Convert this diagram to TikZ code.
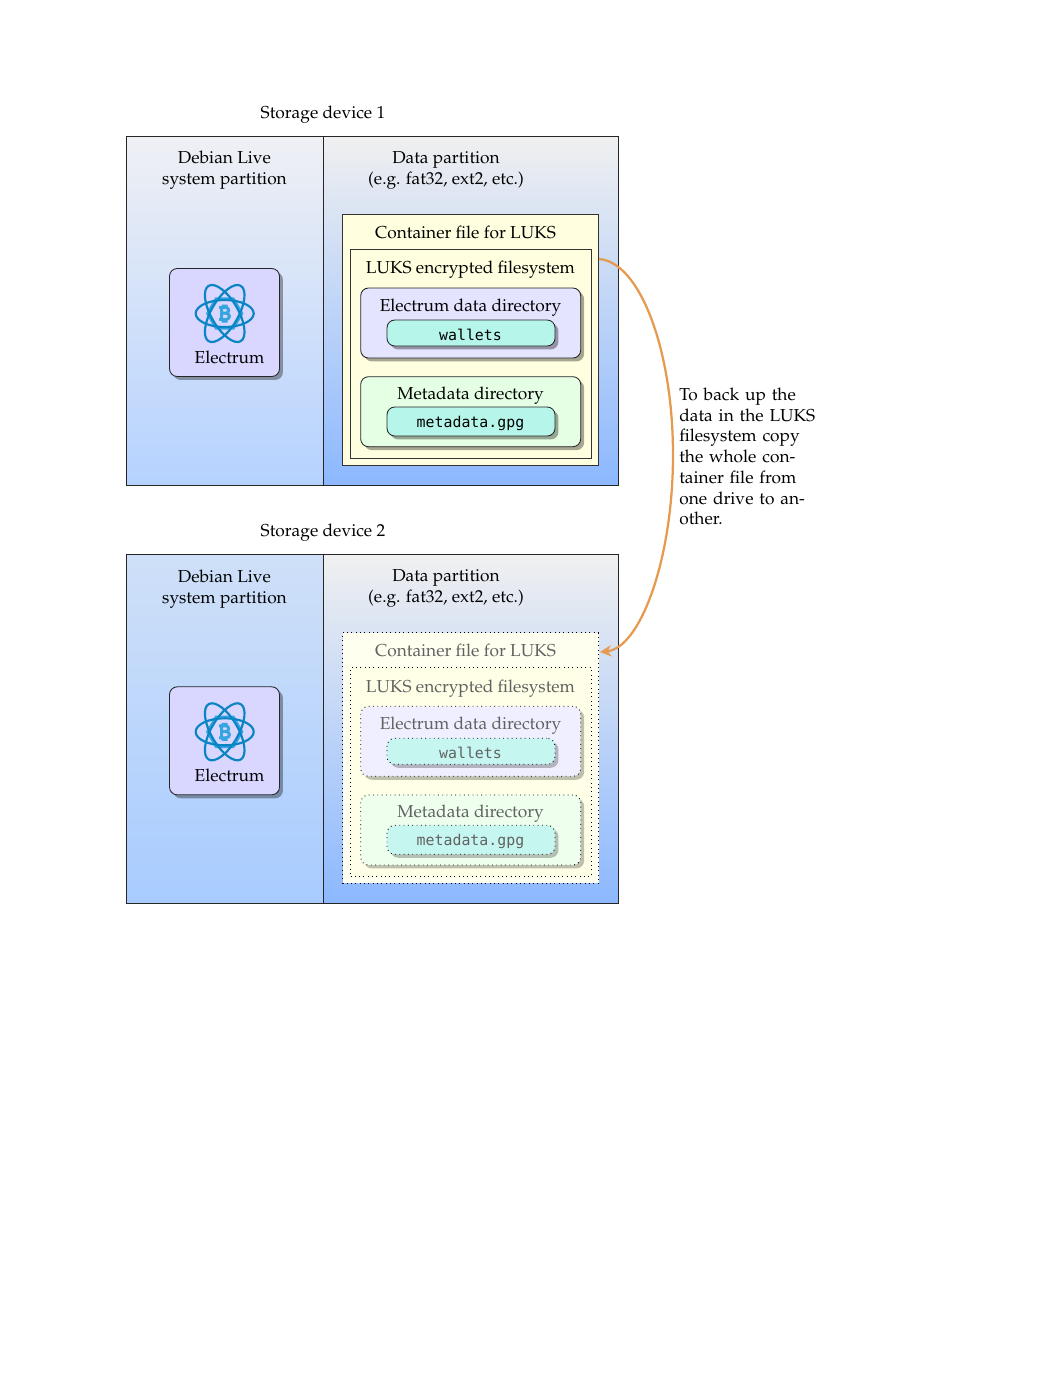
\documentclass[tikz,border=0pt]{standalone}
\usepackage{fontspec}
\usepackage[T1]{fontenc}
\setmonofont[Scale=0.86]{DejaVu Sans Mono}
\renewcommand{\rmdefault}{ppl}
\usetikzlibrary{shadows,arrows.meta}
\definecolor{arrowc}{HTML}{E69A50}
\definecolor{acontc}{HTML}{FFFFE0}
\definecolor{aluksc}{HTML}{FFFFE0}
\definecolor{aedirc}{HTML}{E4E4FF}
\definecolor{amdirc}{HTML}{E4FFE4}
\definecolor{afilec}{HTML}{B5F5EA}
\definecolor{bcontc}{HTML}{FFFFF0}
\definecolor{bluksc}{HTML}{FFFFE8}
\definecolor{bedirc}{HTML}{EFEFFF}
\definecolor{bmdirc}{HTML}{EEFFEE}
\definecolor{bfilec}{HTML}{C6F6F0}
\definecolor{appc}{HTML}{D9D6FF}
\definecolor{iconc}{HTML}{0A85C4}
\definecolor{iconl}{HTML}{35A5E0}
\definecolor{ltopa}{HTML}{EFF0F4}
\definecolor{lbota}{HTML}{B5D2FF}
\definecolor{ltopb}{HTML}{CFE0F8}
\definecolor{lbotb}{HTML}{A8CCFF}
\definecolor{rtop}{HTML}{F0F0F0}
\definecolor{rbot}{HTML}{8CB8FF}
\newcommand{\wsp}{\spaceskip=3.4pt\relax}
\tikzset{
  partbox/.style={draw=black!85,line width=0.45pt,outer sep=0pt},
  sqbox/.style={draw=black!80,line width=0.5pt,inner sep=0pt,outer sep=0pt,rectangle},
  rdbox/.style={draw=black!85,line width=0.5pt,inner sep=0pt,outer sep=0pt,rectangle,rounded corners=4.5pt,
    drop shadow={shadow xshift=0.07cm,shadow yshift=-0.07cm,fill=black,opacity=0.35}},
  dimsq/.style={draw=black,dotted,line width=0.5pt,inner sep=0pt,outer sep=0pt,rectangle},
  dimrd/.style={draw=black,dotted,line width=0.5pt,inner sep=0pt,outer sep=0pt,rectangle,rounded corners=4.5pt,
    drop shadow={shadow xshift=0.07cm,shadow yshift=-0.07cm,fill=black,opacity=0.25}},
  lbl/.style={inner sep=0pt,align=center,font=\rmfamily\fontsize{10}{12}\selectfont},
  orb/.style={draw=iconc,line width=1.25pt},
}
\newcommand{\bx}[6]{%
  \pgfmathsetlengthmacro{\bw}{(#4-#2)*0.02031cm}%
  \pgfmathsetlengthmacro{\bh}{(#5-#3)*0.02031cm}%
  \node[#6,minimum width=\bw,minimum height=\bh,anchor=north west] (#1) at (#2,#3) {};}
\newcommand{\device}[8]{%
  \begin{scope}[yshift=#2*-0.02031cm]
  \node[lbl] (#1title) at (323,114.5) {Storage device #8};
  \shade[top color=#3,bottom color=#4] (126,136) rectangle (323,485);
  \shade[top color=rtop,bottom color=rbot] (323,136) rectangle (618,485);
  \bx{#1left}{126.3}{136.3}{323.3}{485.3}{partbox}
  \bx{#1right}{323.3}{136.3}{618.3}{485.3}{partbox}
  \node[lbl] (#1ltext) at (224.5,170.5) {Debian Live\\system partition};
  \node[lbl] (#1rtext) at (446,170.5) {Data partition\\(e.g. fat32, ext2, etc.)};
  \bx{#1app}{169.5}{268.5}{279.5}{376.5}{rdbox,fill=appc}
  \begin{scope}[shift={(224.7,313.5)}]
    \draw[iconl,line width=1.25pt] (0:17.5) -- (60:17.5) -- (120:17.5) -- (180:17.5) -- (240:17.5) -- (300:17.5) -- cycle;
    \draw[orb] (0,0) ellipse [x radius=29,y radius=13.5];
    \draw[orb,rotate=60] (0,0) ellipse [x radius=32,y radius=13.5];
    \draw[orb,rotate=120] (0,0) ellipse [x radius=32,y radius=13.5];
    \draw[iconl,line width=1.7pt,line join=round] (-3,-6) -- (-3,6) (-5.5,-6) -- (1,-6) .. controls (5,-6) and (5,-0.3) .. (1,-0.3) -- (-3,-0.3) (1,-0.3) .. controls (6,-0.3) and (6,6) .. (1,6) -- (-5.5,6)
      (-1.5,-9) -- (-1.5,-6) (1.5,-9) -- (1.5,-6) (-1.5,6) -- (-1.5,9) (1.5,6) -- (1.5,9);
  \end{scope}
  \node[lbl] (#1apptext) at (229.5,357) {Electrum};
  \bx{#1cont}{342.5}{214.5}{598.5}{465}{#5,fill=#1contc}
  \bx{#1luks}{350.5}{249}{591}{458}{#5,fill=#1luksc}
  \bx{#1edir}{360.7}{288}{580.7}{358}{#6,fill=#1edirc}
  \bx{#1wall}{387}{320}{555}{346}{#6,fill=#1filec}
  \bx{#1mdir}{360.7}{376.7}{580.7}{446.7}{#6,fill=#1mdirc}
  \bx{#1meta}{387}{407}{555}{436}{#6,fill=#1filec}
  \node[lbl,text=#7] (#1conttext) at (465.5,232.5) {Container file for LUKS};
  \node[lbl,text=#7] (#1lukstext) at (470.5,270) {LUKS encrypted filesystem};
  \node[lbl,text=#7] (#1edirtext) at (470.5,307.5) {Electrum data directory};
  \node[lbl,text=#7,font=\ttfamily\fontsize{10}{12}\selectfont] (#1walltext) at (470.5,335) {wallets};
  \node[lbl,text=#7] (#1mdirtext) at (470.5,395.5) {Metadata directory};
  \node[lbl,text=#7,font=\ttfamily\fontsize{10}{12}\selectfont] (#1metatext) at (470.5,423) {metadata.gpg};
  \end{scope}}
\begin{document}
\begin{tikzpicture}[x=0.02031cm,y=-0.02031cm]
\useasboundingbox (0,0) rectangle (1063,1375);
\device{a}{0}{ltopa}{lbota}{sqbox}{rdbox}{black}{1}
\device{b}{418.3}{ltopb}{lbotb}{dimsq}{dimrd}{black!62}{2}
\coordinate (bstart) at (599,259);
\coordinate (bend) at (600,652);
\coordinate (bmid) at (673,455);
\draw[arrowc,line width=1.3pt,-{Stealth[length=6.5pt,width=6.5pt,inset=2pt]}] (bstart) .. controls (640,262) and (673,350) .. (bmid) .. controls (673,560) and (640,648) .. (bend);
\node[lbl,anchor=north west,align=left] (note) at (679,387.5) {\wsp To back up the\\\wsp data in the LUKS\\\wsp filesystem copy\\\wsp the whole con-\\\wsp tainer file from\\\wsp one drive to an-\\other.};
\end{tikzpicture}
\end{document}
